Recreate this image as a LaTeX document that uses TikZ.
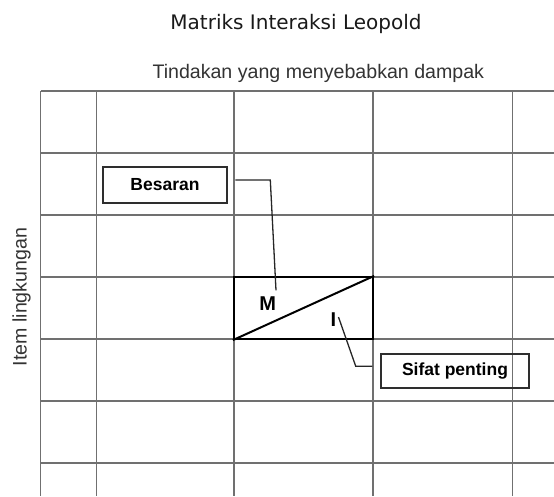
\documentclass[tikz,border=0pt]{standalone}
\usepackage{fontspec}
\usepackage{tikz}
\usetikzlibrary{positioning}
\newfontfamily\titlefont{DejaVu Sans}
\newfontfamily\arialfont{Liberation Sans}
\definecolor{gridgray}{HTML}{707070}
\definecolor{boxgray}{HTML}{2E2E2E}
\definecolor{textgray}{HTML}{333333}

\begin{document}
\begin{tikzpicture}[x=1pt,y=-1pt,every node/.style={inner sep=0pt},
  gridline/.style={draw=gridgray,line width=1.2pt},
  axislabel/.style={font=\arialfont\fontsize{19.6}{22}\selectfont,text=textgray,anchor=base},
  box/.style={draw=boxgray,line width=2pt,font=\arialfont\bfseries\fontsize{17.5}{20}\selectfont},
  letter/.style={font=\arialfont\bfseries\fontsize{20}{22}\selectfont,anchor=base},
  leader/.style={draw=black!85,line width=1.3pt}]
  \useasboundingbox (0,0) rectangle (554,496);

  % Titles
  \node[font=\titlefont\fontsize{20}{24}\selectfont,text=black!90,anchor=base] (title) at (296,29) {Matriks Interaksi Leopold};
  \node[axislabel] (actions) at (318.3,78.3) {Tindakan yang menyebabkan dampak};
  \node[axislabel,rotate=90] (items) at (26.7,297) {Item lingkungan};

  % Grid
  \foreach \x in {40.5,96.5,234,373,512.5}
    \draw[gridline] (\x,91) -- (\x,496);
  \foreach \y in {91,153,215,277,339,401,463}
    \draw[gridline] (40.5,\y) -- (554,\y);

  % Interaction cell
  \node[draw=black,line width=2.2pt,minimum width=139pt,minimum height=62pt] (cell) at (303.5,308) {};
  \draw[black,line width=2pt] (cell.south west) -- (cell.north east);
  \node[letter] (m) at (267.7,310) {M};
  \node[letter] (i) at (333.3,326.7) {I};

  % Callouts
  \node[box,minimum width=124.6pt,minimum height=35.4pt] (besaran) at (165,185) {Besaran};
  \node[box,minimum width=148.6pt,minimum height=34.3pt] (sifat) at (455,371.2) {Sifat penting};
  \draw[leader] ([xshift=7pt,yshift=5pt]besaran.east) -- ++(35,0) -- ([xshift=8.3pt,yshift=5.7pt]m.north);
  \draw[leader] ([xshift=-7.4pt,yshift=5pt]sifat.west) -- ++(-16.6,0) -- ([xshift=2.2pt,yshift=2.8pt]i.east);
\end{tikzpicture}
\end{document}
